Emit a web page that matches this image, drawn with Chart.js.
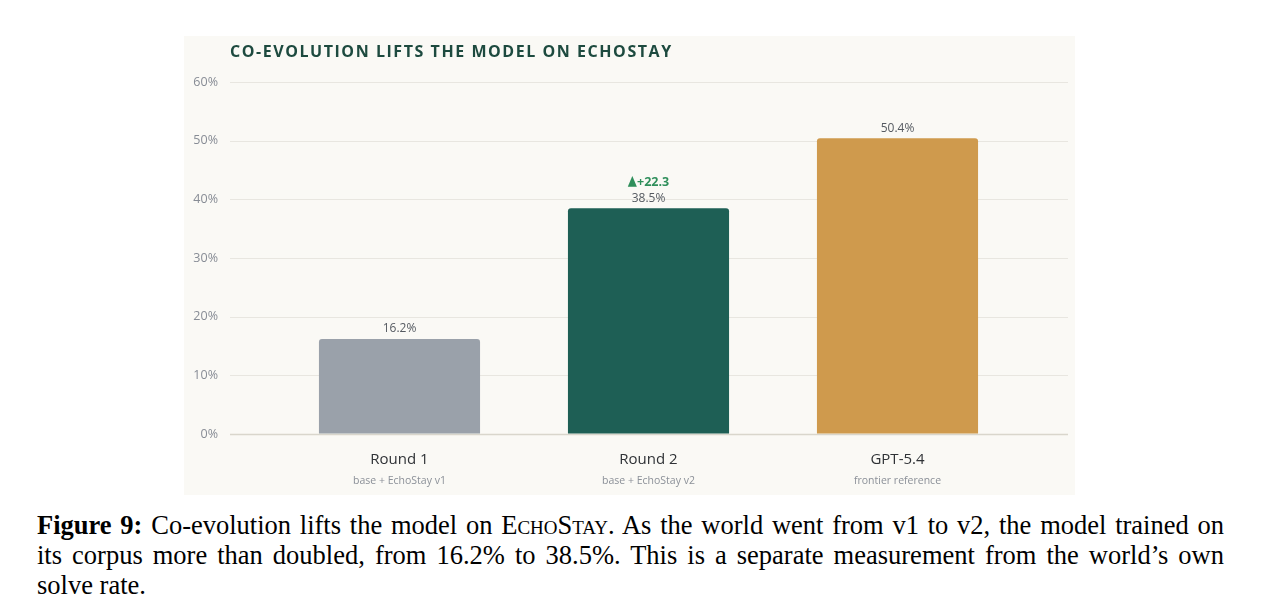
<!DOCTYPE html>
<html>
<head>
<meta charset="utf-8">
<script src="https://cdn.jsdelivr.net/npm/chart.js@4.4.1/dist/chart.umd.min.js"></script>
<style>
  html, body { margin: 0; padding: 0; background: #ffffff; }
  body { width: 1261px; height: 597px; position: relative; overflow: hidden; }
  #panel { position: absolute; left: 184px; top: 36px; width: 891px; height: 459px; background: #faf9f5; }
  #title { position: absolute; left: 46px; top: 4px; font-family: "Open Sans", sans-serif; font-weight: 700;
           font-size: 16px; letter-spacing: 1.55px; color: #1d4a3f; white-space: nowrap; line-height: 22px; }
  #c { position: absolute; left: 0; top: 0; }
  #caption { position: absolute; left: 37px; top: 510px; width: 1187px; font-family: "Liberation Serif", "Times New Roman", serif;
             font-size: 26.5px; line-height: 30px; color: #000; }
  #caption .ln { white-space: nowrap; text-align: justify; text-align-last: justify; }
  #caption .last { white-space: nowrap; text-align: left; }
  .sc { font-variant: small-caps; }
</style>
</head>
<body>
<div id="panel">
  <canvas id="c" width="891" height="459" style="width:891px;height:459px"></canvas>
  <div id="title">CO-EVOLUTION LIFTS THE MODEL ON ECHOSTAY</div>
</div>
<div id="caption">
  <div class="ln"><b>Figure 9:</b> Co-evolution lifts the model on <span class="sc">EchoStay</span>. As the world went from v1 to v2, the model trained on</div>
  <div class="ln">its corpus more than doubled, from 16.2% to 38.5%. This is a separate measurement from the world’s own</div>
  <div class="last">solve rate.</div>
</div>
<script>
const categories = ["Round 1", "Round 2", "GPT-5.4"];
const subLabels = ["base + EchoStay v1", "base + EchoStay v2", "frontier reference"];
const values = [16.2, 38.5, 50.4];
const deltas = [null, 22.3, null];
const barColors = ["#9aa1aa", "#1e5f55", "#cf9a4d"];
const yTicks = [0, 10, 20, 30, 40, 50, 60];

const FONT = '"Open Sans", sans-serif';

const gridPlugin = {
  id: 'extGrid',
  beforeDatasetsDraw(chart) {
    const ctx = chart.ctx, y = chart.scales.y, area = chart.chartArea;
    ctx.save();
    y.ticks.forEach(t => {
      const py = Math.round(y.getPixelForValue(t.value)) + 0.5;
      ctx.strokeStyle = t.value === 0 ? '#d9d6cc' : '#e8e6e0';
      ctx.lineWidth = t.value === 0 ? 1.5 : 1;
      ctx.beginPath();
      ctx.moveTo(area.left - 45, py);
      ctx.lineTo(area.right + 46, py);
      ctx.stroke();
    });
    ctx.restore();
  }
};

const labelPlugin = {
  id: 'valLabels',
  afterDatasetsDraw(chart) {
    const ctx = chart.ctx;
    const meta = chart.getDatasetMeta(0);
    ctx.save();
    ctx.textBaseline = 'middle';
    meta.data.forEach((bar, i) => {
      ctx.textAlign = 'center';
      ctx.font = '12px ' + FONT;
      ctx.fillStyle = '#555a61';
      ctx.fillText(values[i].toFixed(1) + '%', bar.x, bar.y - 10);
      if (deltas[i] !== null) {
        const tri = '▲', num = '+' + deltas[i].toFixed(1);
        ctx.fillStyle = '#2f8f5b';
        ctx.font = '14px "DejaVu Sans", sans-serif';
        const wt = ctx.measureText(tri).width * 0.85;
        ctx.font = 'bold 12.5px ' + FONT;
        const wn = ctx.measureText(num).width;
        const x0 = bar.x - (wt + wn) / 2;
        ctx.textAlign = 'left';
        ctx.fillText(num, x0 + wt, bar.y - 26);
        ctx.font = '14px "DejaVu Sans", sans-serif';
        ctx.save();
        ctx.translate(x0, bar.y - 26.5);
        ctx.scale(0.85, 1);
        ctx.fillText(tri, 0, 0);
        ctx.restore();
      }
    });
    ctx.restore();
  }
};

new Chart(document.getElementById('c'), {
  type: 'bar',
  data: {
    labels: categories,
    datasets: [{
      data: values,
      backgroundColor: barColors,
      borderRadius: 3,
      borderSkipped: 'bottom',
      categoryPercentage: 1,
      barPercentage: 0.647
    }]
  },
  options: {
    responsive: false,
    animation: false,
    devicePixelRatio: 1,
    layout: { padding: { top: 46, right: 53, left: 0, bottom: 0 } },
    plugins: { legend: { display: false }, tooltip: { enabled: false }, title: { display: false } },
    scales: {
      x: {
        position: 'bottom',
        grid: { display: false, drawTicks: false },
        border: { display: false },
        ticks: { color: '#2f3236', font: { family: FONT, size: 15 }, padding: 17 },
        afterFit(s) { s.height = 34; }
      },
      x2: {
        position: 'bottom',
        type: 'category',
        labels: subLabels,
        offset: true,
        grid: { display: false, drawTicks: false },
        border: { display: false },
        ticks: { color: '#8b9098', font: { family: FONT, size: 10.5 }, padding: 7 },
        afterFit(s) { s.height = 27; }
      },
      y: {
        min: 0, max: 60,
        afterBuildTicks(s) { s.ticks = yTicks.map(v => ({ value: v })); },
        grid: { display: true, drawOnChartArea: false, drawTicks: true, tickLength: 45, tickColor: 'rgba(0,0,0,0)' },
        border: { display: false },
        ticks: { color: '#878c95', font: { family: FONT, size: 12.5 }, padding: 12, callback: v => v + '%' },
        afterFit(s) { s.width = 91; }
      }
    }
  },
  plugins: [gridPlugin, labelPlugin]
});
</script>
</body>
</html>
